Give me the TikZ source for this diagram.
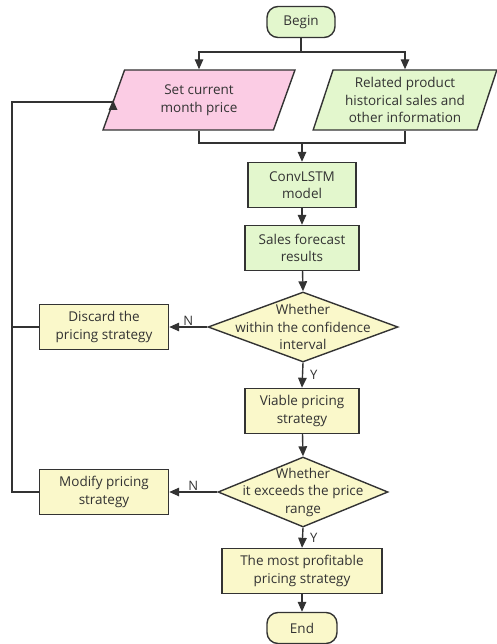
\documentclass[tikz,border=0pt]{standalone}
\usepackage{fontspec}
\setmainfont{Open Sans}
\usetikzlibrary{shapes.geometric,arrows.meta,calc,positioning}
\definecolor{inkgray}{HTML}{333333}
\definecolor{boxgreen}{HTML}{E3F7CD}
\definecolor{boxpink}{HTML}{FBCCE4}
\definecolor{boxyellow}{HTML}{FAF8CA}
\tikzset{
	flow chart/.style={
		x=1pt, y=-1pt,
		line width=1.4pt,
		draw=inkgray,
		every node/.style={text=inkgray, font=\fontsize{13.5}{17.5}\selectfont, align=center},
		arr/.style={-{Triangle[length=10pt,width=8.5pt]}, draw=inkgray},
		},
	procbox/.style={draw=inkgray, rectangle, inner sep=2pt, minimum height=45pt},
	termbox/.style={draw=inkgray, rectangle, rounded corners=11pt, minimum height=31pt},
	iobox/.style={draw=inkgray, trapezium, trapezium left angle=70, trapezium right angle=110,
		trapezium stretches=true, minimum height=60pt, inner sep=0pt},
	decide/.style={draw=inkgray, diamond, inner sep=0pt, fill=boxyellow},
	yn/.style={font=\fontsize{13}{15}\selectfont, inner sep=1pt}
}

\begin{document}
\begin{tikzpicture}[flow chart]
   \useasboundingbox (0,0) rectangle (496,644);
   \node[termbox, fill=boxgreen, minimum width=68pt] (begin) at (301,22) {Begin};
   \node[iobox, fill=boxpink, minimum width=192pt] (setprice) at (199,100) {Set current\\month price};
   \node[iobox, fill=boxgreen, minimum width=184pt] (related) at (405,100)
      {Related product\\historical sales and\\other information};
   \node[procbox, fill=boxgreen, minimum width=108pt] (convlstm) at (302,185) {ConvLSTM\\model};
   \node[procbox, fill=boxgreen, minimum width=114pt] (forecast) at (302,248) {Sales forecast\\results};
   \node[decide, minimum width=190pt, minimum height=70pt,
         label={[align=center]center:{Whether\\within the confidence\\interval}}] (conf) at (303,327) {};
   \node[procbox, fill=boxyellow, minimum width=129pt] (discard) at (104,327) {Discard the\\pricing strategy};
   \node[procbox, fill=boxyellow, minimum width=114pt] (viable) at (302,411) {Viable pricing\\strategy};
   \node[decide, minimum width=170pt, minimum height=70pt,
         label={[align=center]center:{Whether\\it exceeds the price\\range}}] (range) at (303,492) {};
   \node[procbox, fill=boxyellow, minimum width=129pt] (modify) at (104,492) {Modify pricing\\strategy};
   \node[procbox, fill=boxyellow, minimum width=160pt] (best) at (302,571)
      {The most profitable\\pricing strategy};
   \node[termbox, fill=boxyellow, minimum width=70pt] (finish) at (302,628) {End};
   \coordinate (split) at (301,52);
   \coordinate (join) at (302,143);
   \coordinate (loop) at (12,102);
   % top part
   \draw (begin.south) -- (split);
   \draw[arr] (split) -| (setprice.north);
   \draw[arr] (split) -| (related.north);
   \draw (setprice.south) |- (join) -| (related.south);
   \draw[arr] (join) -- (convlstm.north);
   \draw[arr] (convlstm) -- (forecast);
   \draw[arr] (forecast) -- (conf.north);
   % decisions
   \draw[arr] (conf.west) -- node[yn, above] {N} (discard.east);
   \draw[arr] (conf.south) -- node[yn, right=6pt] {Y} (viable.north);
   \draw[arr] (viable) -- (range.north);
   \draw[arr] (range.west) -- node[yn, above] {N} (modify.east);
   \draw[arr] (range.south) -- node[yn, right=6pt] {Y} (best.north);
   \draw[arr] (best) -- (finish);
   % back to the price
   \draw (discard.west) -- (discard.west -| loop);
   \draw[arr] (modify.west) -| (loop) -- (loop -| setprice.west) -- (setprice.west);
\end{tikzpicture}
\end{document}
